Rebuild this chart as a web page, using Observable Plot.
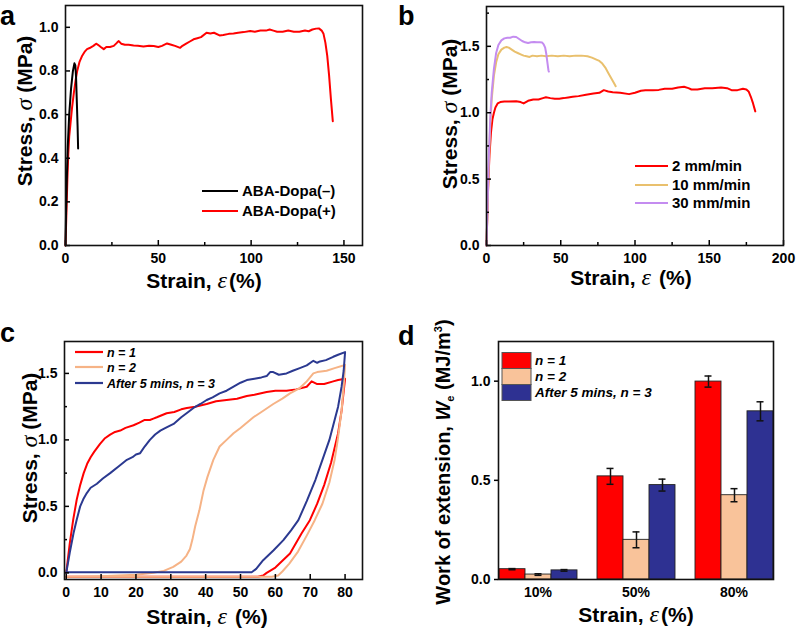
<!DOCTYPE html>
<html><head><meta charset="utf-8">
<script src="https://cdn.jsdelivr.net/npm/d3@7"></script>
<script src="https://cdn.jsdelivr.net/npm/@observablehq/plot@0.6"></script>
<style>
body{margin:0;background:#fff;}
#fig{position:relative;width:796px;height:628px;overflow:hidden;background:#fff;}
.panel{position:absolute;}
#overlay{position:absolute;left:0;top:0;pointer-events:none;}
</style></head><body>
<div id="fig"></div>
<script>
// ---------- Panel a ----------
const aSeries = ["ABA-Dopa(–)", "ABA-Dopa(+)"];
const aColors = ["#000000", "#ff0000"];
const aMinusStrain = [0, 0.3, 0.7, 1.2, 2, 3, 4, 4.8, 5.3, 5.7, 6.1, 6.5, 6.8];
const aMinusStress = [0, 0.15, 0.3, 0.45, 0.6, 0.72, 0.8, 0.835, 0.825, 0.77, 0.66, 0.55, 0.445];
const aPlusStrain = [0, 0.5, 1, 1.5, 2, 2.7, 3.5, 4.5, 5.5, 6.3, 7.5, 9, 10.5, 11.6, 13, 15, 16.5, 17.5, 19, 20.6, 22, 24, 26, 27.8, 28.7, 30, 32, 34, 36.7, 39, 42, 45, 47.5, 50, 52, 54.7, 57, 59, 61.8, 63, 65, 67, 69, 71, 73, 76, 78, 80, 83, 85, 88, 90.5, 93, 96, 99.5, 102, 105, 108, 110, 112, 114, 117, 120, 123, 126, 129, 131, 133, 135, 136.5, 138, 139, 140, 141, 142, 143, 144];
const aPlusStress = [0, 0.15, 0.3, 0.42, 0.5, 0.56, 0.63, 0.7, 0.76, 0.8, 0.84, 0.87, 0.89, 0.9, 0.905, 0.915, 0.925, 0.92, 0.91, 0.9, 0.91, 0.91, 0.915, 0.93, 0.937, 0.925, 0.92, 0.92, 0.917, 0.915, 0.912, 0.915, 0.914, 0.91, 0.915, 0.926, 0.92, 0.915, 0.906, 0.915, 0.925, 0.935, 0.945, 0.95, 0.955, 0.975, 0.972, 0.975, 0.963, 0.965, 0.97, 0.972, 0.975, 0.978, 0.983, 0.98, 0.985, 0.985, 0.99, 0.985, 0.98, 0.98, 0.985, 0.98, 0.98, 0.985, 0.982, 0.99, 0.994, 0.995, 0.985, 0.97, 0.93, 0.87, 0.78, 0.67, 0.57];
const aXTicks = [0, 50, 100, 150];
const aXMinor = [25, 75, 125];
const aYTicks = [0, 0.2, 0.4, 0.6, 0.8, 1.0];

// ---------- Panel b ----------
const bSeries = ["2 mm/min", "10 mm/min", "30 mm/min"];
const bColors = ["#ff0000", "#e9c06d", "#c48cf0"];
const b2Strain = [0, 0.5, 1, 1.5, 2, 3, 4, 5, 6, 7.5, 9.3, 12, 15, 20, 23, 25, 28, 31.5, 35, 38, 40, 43, 46, 49, 52, 55, 58, 62, 67, 72, 76, 79, 82, 85, 90, 96, 100, 104, 107, 112, 116, 120, 125, 129, 133, 136, 138, 142, 147, 152, 158, 162, 165, 169, 172.7, 175, 176.5, 178, 179.5, 181];
const b2Stress = [0, 0.2, 0.4, 0.55, 0.68, 0.85, 0.95, 1.0, 1.04, 1.07, 1.08, 1.085, 1.085, 1.086, 1.08, 1.07, 1.09, 1.1, 1.1, 1.11, 1.116, 1.11, 1.105, 1.106, 1.11, 1.115, 1.12, 1.125, 1.136, 1.145, 1.15, 1.17, 1.16, 1.155, 1.15, 1.14, 1.15, 1.165, 1.17, 1.17, 1.172, 1.18, 1.18, 1.19, 1.195, 1.185, 1.175, 1.175, 1.185, 1.185, 1.19, 1.185, 1.17, 1.17, 1.18, 1.175, 1.16, 1.12, 1.07, 1.01];
const b10Strain = [0, 0.7, 1.5, 2.5, 3.5, 5, 6.5, 8, 10, 12, 13.5, 15, 17, 19, 21, 23, 25, 27, 29, 31, 34, 37, 40, 44, 48, 52, 56, 60, 64, 68, 71, 74, 76, 78, 80, 82, 84, 86, 87];
const b10Stress = [0, 0.3, 0.6, 0.9, 1.1, 1.28, 1.38, 1.44, 1.475, 1.49, 1.495, 1.49, 1.475, 1.46, 1.45, 1.44, 1.43, 1.425, 1.42, 1.43, 1.425, 1.43, 1.425, 1.43, 1.425, 1.43, 1.425, 1.43, 1.43, 1.425, 1.415, 1.4, 1.39, 1.37, 1.34, 1.3, 1.26, 1.22, 1.2];
const b30Strain = [0, 0.7, 1.5, 2.5, 3.5, 5, 6.5, 8, 10, 12, 14, 16, 18, 20, 22, 24, 26, 28, 30, 32, 34, 36, 37.5, 38.5, 39.5, 40.3, 41, 41.7, 42];
const b30Stress = [0, 0.3, 0.65, 0.95, 1.15, 1.33, 1.45, 1.51, 1.545, 1.56, 1.565, 1.565, 1.573, 1.57, 1.555, 1.54, 1.53, 1.525, 1.53, 1.532, 1.53, 1.53, 1.528, 1.515, 1.49, 1.44, 1.38, 1.32, 1.31];
const bXTicks = [0, 50, 100, 150, 200];
const bXMinor = [25, 75, 125, 175];
const bYTicks = [0, 0.5, 1.0, 1.5];
const bYMinor = [0.25, 0.75, 1.25, 1.75];

// ---------- Panel c ----------
const cSeries = ["n = 1", "n = 2", "After 5 mins, n = 3"];
const cColors = ["#ff0000", "#f6b386", "#2b3990"];
const c1Strain = [0, 1, 2, 3, 4, 5, 6, 7, 8, 9.7, 11, 12.6, 14, 15.5, 17, 19.3, 21, 22.5, 24, 25, 26, 28.8, 31, 33, 34.6, 37, 40.3, 43, 46, 49, 51.8, 54, 57.5, 60, 63.2, 66, 69, 70.4, 72, 74, 76.6, 78, 80, 79, 78, 76, 74, 72, 69.9, 67.5, 64.2, 60, 57.5, 56.5, 55, 0];
const c1Stress = [0, 0.22, 0.4, 0.55, 0.66, 0.75, 0.82, 0.87, 0.91, 0.97, 1.01, 1.04, 1.06, 1.07, 1.09, 1.11, 1.13, 1.15, 1.15, 1.16, 1.17, 1.2, 1.21, 1.23, 1.24, 1.25, 1.27, 1.29, 1.3, 1.31, 1.33, 1.34, 1.36, 1.37, 1.37, 1.38, 1.4, 1.44, 1.42, 1.42, 1.44, 1.45, 1.46, 1.22, 1.05, 0.83, 0.66, 0.52, 0.396, 0.296, 0.146, 0.04, 0.0, -0.02, -0.03, -0.03];
const c2Strain = [0, 10, 20, 25, 28, 30.7, 33, 34.5, 35.5, 36.2, 37, 38.2, 39.4, 40.5, 42.2, 44, 46, 48, 50, 53.7, 56, 59.4, 62, 64.2, 67, 69, 70.9, 72, 74.7, 77, 79.5, 80, 79.6, 79, 78, 77, 75.5, 73.5, 71.3, 69, 66.5, 64, 62, 60.8, 59, 0];
const c2Stress = [-0.03, -0.025, -0.015, 0.0, 0.015, 0.045, 0.085, 0.13, 0.18, 0.25, 0.35, 0.47, 0.62, 0.72, 0.85, 0.95, 1.0, 1.05, 1.09, 1.17, 1.21, 1.27, 1.31, 1.35, 1.39, 1.44, 1.5, 1.51, 1.52, 1.54, 1.56, 1.565, 1.4, 1.22, 1.02, 0.85, 0.68, 0.52, 0.396, 0.28, 0.16, 0.07, 0.01, -0.02, -0.03, -0.03];
const c3Strain = [0, 1, 2.1, 3, 4, 5, 5.9, 7, 8.8, 10.5, 12.6, 15, 17.4, 19, 20, 21.2, 22.5, 24, 25.5, 27, 28.5, 30.8, 33, 35, 36.5, 38.5, 40.3, 42, 44, 46, 48, 50, 51.8, 54, 56, 57.5, 58.5, 59.4, 61, 63.2, 65, 67, 69, 70.9, 72, 72.8, 74.5, 76.6, 78, 80, 79.6, 79, 78, 77, 75.5, 73.5, 71.5, 69, 66.6, 64.5, 62.3, 59.5, 56.5, 54.5, 53.2, 50, 0];
const c3Stress = [0, 0.15, 0.3, 0.4, 0.5, 0.56, 0.6, 0.64, 0.67, 0.71, 0.75, 0.8, 0.85, 0.87, 0.89, 0.9, 0.95, 1.0, 1.04, 1.07, 1.09, 1.12, 1.17, 1.21, 1.24, 1.27, 1.3, 1.32, 1.35, 1.37, 1.4, 1.43, 1.45, 1.46, 1.47, 1.48, 1.51, 1.51, 1.49, 1.5, 1.52, 1.54, 1.56, 1.595, 1.58, 1.59, 1.6, 1.625, 1.64, 1.66, 1.52, 1.4, 1.25, 1.15, 1.0, 0.85, 0.7, 0.54, 0.396, 0.32, 0.246, 0.17, 0.095, 0.03, 0.005, 0.005, 0.005];
const cXTicks = [0, 10, 20, 30, 40, 50, 60, 70, 80];
const cYTicks = [0, 0.5, 1.0, 1.5];
const cYMinor = [0.25, 0.75, 1.25];

// ---------- Panel d ----------
const dStrains = ["10%", "50%", "80%"];
const dSeries = ["n = 1", "n = 2", "After 5 mins, n = 3"];
const dColors = ["#ff0000", "#f9c39a", "#2e3192"];
const dN1 = [0.052, 0.52, 0.998];
const dN2 = [0.025, 0.20, 0.425];
const dN3 = [0.046, 0.476, 0.848];
const dErrN1 = [0.003, 0.04, 0.028];
const dErrN2 = [0.004, 0.04, 0.033];
const dErrN3 = [0.004, 0.03, 0.048];
const dYTicks = [0, 0.5, 1.0];

// ---------- helpers ----------
const rows = (xs, ys, s) => xs.map((x, i) => ({strain: x, stress: ys[i], series: s}));
const FONT = "'Liberation Sans', Arial, sans-serif";
const style = {fontFamily: FONT, fontSize: "14px", fontWeight: "bold", background: "transparent", overflow: "visible", color: "#000"};
const f1 = d3.format(".1f");
const fig = document.getElementById("fig");
function place(svg, left, top) {
  const d = document.createElement("div");
  d.className = "panel"; d.style.left = left + "px"; d.style.top = top + "px";
  d.appendChild(svg); fig.appendChild(d);
}
function lineChart({W, H, ml, mr, mt, mb, xd, yd, data, series, colors, xt, xm = [], yt, ym = [], xf = d3.format("d")}) {
  const ih = H - mt - mb, iw = W - ml - mr;
  return Plot.plot({
    width: W, height: H, marginLeft: ml, marginRight: mr, marginTop: mt, marginBottom: mb,
    style,
    x: {domain: xd, label: null},
    y: {domain: yd, label: null},
    color: {domain: series, range: colors},
    marks: [
      Plot.line(data, {x: "strain", y: "stress", z: "series", stroke: "series", strokeWidth: 2, curve: "linear"}),
      Plot.tickX(xt, {x: d => d, insetTop: ih - 5, strokeWidth: 1.5}),
      Plot.tickX(xm, {x: d => d, insetTop: ih - 3, strokeWidth: 1.5}),
      Plot.tickY(yt, {y: d => d, insetRight: iw - 5, strokeWidth: 1.5}),
      Plot.tickY(ym, {y: d => d, insetRight: iw - 3, strokeWidth: 1.5}),
      Plot.axisX({ticks: xt, tickSize: 0, tickPadding: 8, tickFormat: xf, label: null}),
      Plot.axisY({ticks: yt, tickSize: 0, tickPadding: 7, tickFormat: f1, label: null}),
      Plot.frame({stroke: "#111", strokeWidth: 1.6})
    ]
  });
}

// a
place(lineChart({W: 398, H: 300, ml: 65, mr: 36, mt: 5, mb: 55, xd: [0, 160], yd: [0, 1.1],
  data: rows(aPlusStrain, aPlusStress, aSeries[1]).concat(rows(aMinusStrain, aMinusStress, aSeries[0])),
  series: aSeries, colors: aColors, xt: aXTicks, xm: aXMinor, yt: aYTicks}), 0, 0);

// b
place(lineChart({W: 396, H: 300, ml: 86, mr: 13, mt: 6, mb: 55, xd: [0, 200], yd: [0, 1.8],
  data: rows(b2Strain, b2Stress, bSeries[0]).concat(rows(b10Strain, b10Stress, bSeries[1]), rows(b30Strain, b30Stress, bSeries[2])),
  series: bSeries, colors: bColors, xt: bXTicks, xm: bXMinor, yt: bYTicks, ym: bYMinor}), 400, 0);

// c
place(lineChart({W: 398, H: 328, ml: 64, mr: 36, mt: 41, mb: 49, xd: [-0.5, 85], yd: [-0.05, 1.74],
  data: rows(c1Strain, c1Stress, cSeries[0]).concat(rows(c2Strain, c2Stress, cSeries[1]), rows(c3Strain, c3Stress, cSeries[2])),
  series: cSeries, colors: cColors, xt: cXTicks, yt: cYTicks, ym: cYMinor}), 0, 300);

// d
const dMeans = [dN1, dN2, dN3], dErrs = [dErrN1, dErrN2, dErrN3];
const dRows = [];
dSeries.forEach((s, j) => dStrains.forEach((g, i) => dRows.push({strain: g, series: s, value: dMeans[j][i], lo: dMeans[j][i] - dErrs[j][i], hi: dMeans[j][i] + dErrs[j][i]})));
place(Plot.plot({
  width: 396, height: 328, marginLeft: 87, marginRight: 13, marginTop: 41, marginBottom: 49,
  style,
  fx: {domain: dStrains, paddingInner: 0.194, paddingOuter: 0.094, label: null},
  x: {domain: dSeries, padding: 0, axis: null, label: null},
  y: {domain: [0, 1.2], label: null},
  color: {domain: dSeries, range: dColors},
  marks: [
    Plot.barY(dRows, {fx: "strain", x: "series", y: "value", fill: "series", stroke: "#222", strokeWidth: 0.9}),
    Plot.ruleX(dRows, {fx: "strain", x: "series", y1: "lo", y2: "hi", stroke: "#111", strokeWidth: 1.5}),
    Plot.tickY(dRows, {fx: "strain", x: "series", y: "lo", insetLeft: 9.5, insetRight: 9.5, stroke: "#111", strokeWidth: 1.5}),
    Plot.tickY(dRows, {fx: "strain", x: "series", y: "hi", insetLeft: 9.5, insetRight: 9.5, stroke: "#111", strokeWidth: 1.5}),
    Plot.axisFx({anchor: "bottom", tickSize: 0, tickPadding: 8, label: null}),
    Plot.axisY({ticks: dYTicks, tickSize: 4, tickPadding: 4, tickFormat: f1, label: null, strokeWidth: 1.5}),
    Plot.frame({facet: "super", stroke: "#111", strokeWidth: 1.6})
  ]
}), 400, 300);

// ---------- overlay: panel letters, axis titles, legends ----------
const T = "font-family:" + FONT.replace(/'/g, "") + ";font-weight:bold;";
const sig = `<tspan font-family="Liberation Serif" font-style="italic" font-weight="normal" font-size="24">σ</tspan>`;
const eps = `<tspan font-family="Liberation Serif" font-style="italic" font-weight="normal" font-size="24">ε</tspan>`;
function legLines(x1, x2, ys, names, colors, fs, italic) {
  return names.map((n, i) => `<line x1="${x1}" x2="${x2}" y1="${ys[i]}" y2="${ys[i]}" stroke="${colors[i]}" stroke-width="2.2"/>` +
    `<text x="${x2 + 4}" y="${ys[i] + fs * 0.36}" font-size="${fs}" ${italic ? 'font-style="italic"' : ""}>${n}</text>`).join("");
}
function legRects(x1, x2, ys, h, names, colors, fs) {
  return names.map((n, i) => `<rect x="${x1}" y="${ys[i] - h / 2}" width="${x2 - x1}" height="${h}" fill="${colors[i]}" stroke="#555" stroke-width="1"/>` +
    `<text x="${x2 + 4}" y="${ys[i] + fs * 0.36}" font-size="${fs}" font-style="italic">${n}</text>`).join("");
}
const ov = `<svg id="overlay" width="796" height="628" xmlns="http://www.w3.org/2000/svg" style="${T}">
<g font-size="27">
<text x="0" y="25">a</text><text x="398" y="25">b</text><text x="0" y="342">c</text><text x="398" y="345">d</text>
</g>
<g font-size="21" text-anchor="middle">
<text x="204" y="288">Strain, ${eps}<tspan dx="2">(%)</tspan></text>
<text transform="translate(32,111) rotate(-90)">Stress, ${sig} (MPa)</text>
<text x="631" y="285">Strain, ${eps}<tspan dx="8">(%)</tspan></text>
<text transform="translate(457,114) rotate(-90)">Stress, ${sig} (MPa)</text>
<text x="207" y="624">Strain, ${eps}<tspan dx="8">(%)</tspan></text>
<text transform="translate(37,448) rotate(-90)">Stress, ${sig} (MPa)</text>
<text x="636" y="622">Strain, ${eps}<tspan dx="2">(%)</tspan></text>
<text transform="translate(450,462) rotate(-90)" font-size="20">Work of extension, <tspan font-style="italic">W</tspan><tspan font-size="11" dy="4">e</tspan><tspan dy="-4"> (MJ/m</tspan><tspan font-size="11" dy="-8">3</tspan><tspan dy="8">)</tspan></text>
</g>
${legLines(202, 238, [191, 211], aSeries, aColors, 15, false)}
${legLines(635, 668, [166, 185, 203], bSeries, bColors, 15, false)}
${legLines(75, 103, [352, 367, 383], cSeries, cColors, 12.5, true)}
${legRects(502, 531, [360.5, 376.5, 392.5], 16, dSeries, dColors, 13.5)}
</svg>`;
fig.insertAdjacentHTML("beforeend", ov);
</script>
</body></html>
